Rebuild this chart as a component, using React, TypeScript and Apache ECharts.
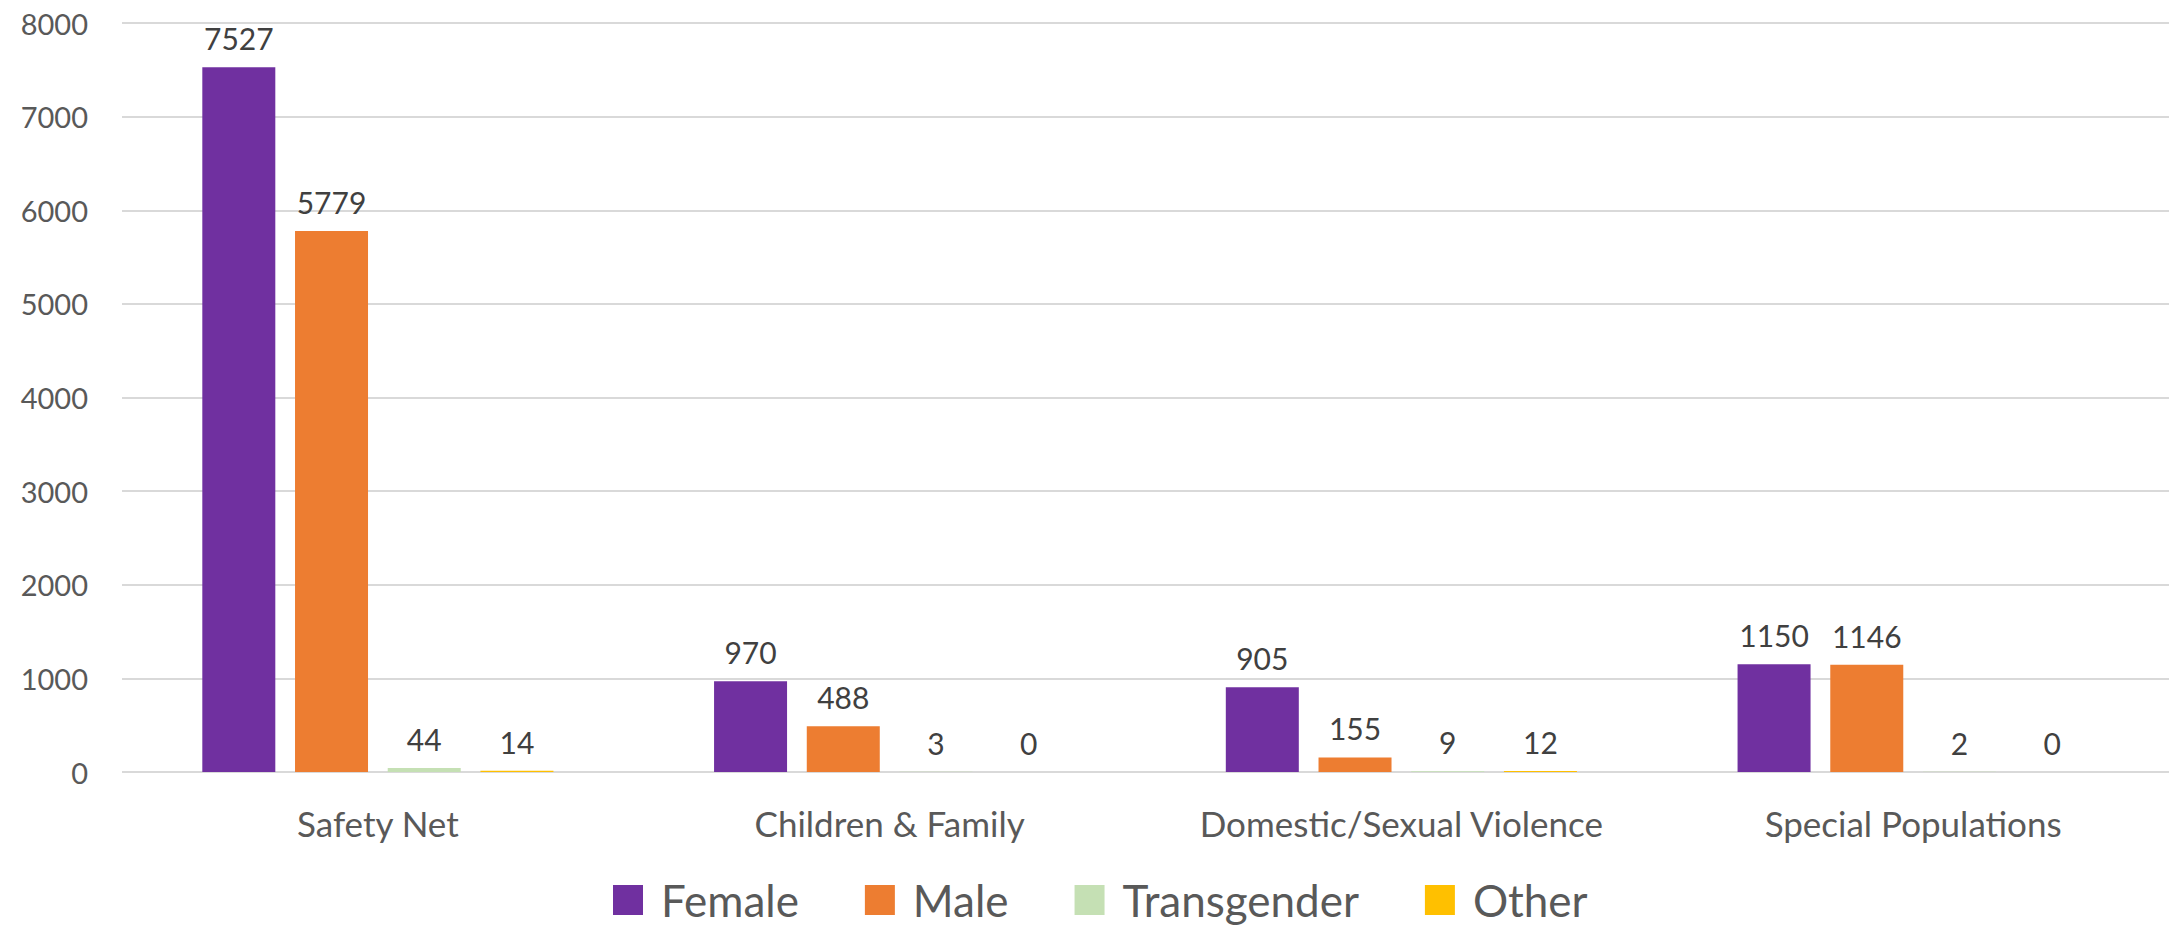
import React, { useEffect, useRef } from "react";
import * as echarts from "echarts";

const categories = ["Safety Net", "Children & Family", "Domestic/Sexual Violence", "Special Populations"];
const female = [7527, 970, 905, 1150];
const male = [5779, 488, 155, 1146];
const transgender = [44, 3, 9, 2];
const other = [14, 0, 12, 0];
const yTicks = { min: 0, max: 8000, interval: 1000 };

const FONT = "Lato, 'Open Sans', sans-serif";

export default function App() {
  const ref = useRef<HTMLDivElement>(null);
  useEffect(() => {
    document.body.style.margin = "0";
    const chart = echarts.init(ref.current!, null, { renderer: "svg" });
    const mk = (name: string, data: number[], color: string) => ({
      name,
      type: "bar",
      data,
      barWidth: 73,
      barGap: "27%",
      itemStyle: { color },
      label: {
        show: true,
        position: "top",
        distance: 14,
        color: "#404040",
        fontSize: 30,
        fontFamily: FONT,
      },
    });
    chart.setOption({
      animation: false,
      textStyle: { fontFamily: FONT },
      grid: { left: 122, right: 0, top: 23, bottom: 156, containLabel: false },
      legend: {
        data: ["Female", "Male", "Transgender", "Other"],
        left: 613,
        top: 877,
        padding: 0,
        icon: "rect",
        itemWidth: 30,
        itemHeight: 30,
        itemGap: 66,
        textStyle: { fontSize: 44, lineHeight: 46, color: "#595959", fontFamily: FONT, padding: [0, 0, 0, 13] },
      },
      xAxis: {
        type: "category",
        data: categories,
        axisLine: { show: false },
        axisTick: { show: false },
        axisLabel: { interval: 0, fontSize: 35, color: "#595959", fontFamily: FONT, margin: 33 },
      },
      yAxis: {
        type: "value",
        min: yTicks.min,
        max: yTicks.max,
        interval: yTicks.interval,
        axisLine: { show: false },
        axisTick: { show: false },
        axisLabel: {
          fontSize: 29,
          color: "#595959",
          fontFamily: FONT,
          margin: 34,
          formatter: (v: number) => String(v),
        },
        splitLine: { lineStyle: { color: "#D9D9D9", width: 2 } },
      },
      series: [
        mk("Female", female, "#7030A0"),
        mk("Male", male, "#ED7D31"),
        mk("Transgender", transgender, "#C5E0B4"),
        mk("Other", other, "#FFC000"),
      ],
    });
    return () => chart.dispose();
  }, []);
  return <div ref={ref} style={{ width: 2169, height: 928 }} />;
}
